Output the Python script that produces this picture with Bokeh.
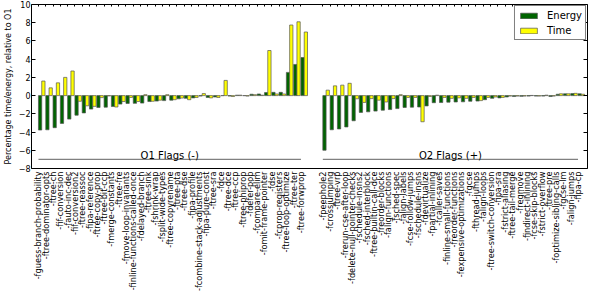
import numpy as np
from bokeh.plotting import figure
from bokeh.models import ColumnDataSource, FixedTicker, LinearAxis, CustomJSTickFormatter, Range1d
from bokeh.core.properties import value
from bokeh.embed import file_html
from bokeh.resources import INLINE

# ---------------- data ----------------
o1_flags = [
    "-fguess-branch-probability", "-ftree-dominator-opts", "-ftree-ch", "-fif-conversion",
    "-fauto-inc-dec", "-fif-conversion2", "-ftree-reassoc", "-fipa-reference",
    "-ftree-copy-prop", "-ftree-bit-ccp", "-fmerge-constants", "-ftree-fre",
    "-fmove-loop-invariants", "-finline-functions-called-once", "-fdelayed-branch",
    "-ftree-sink", "-fshrink-wrap", "-fsplit-wide-types", "-ftree-copyrename",
    "-ftree-pta", "-ftree-dse", "-fipa-profile", "-fcombine-stack-adjustments",
    "-fipa-pure-const", "-ftree-sra", "-fdce", "-ftree-dce", "-ftree-ccp",
    "-ftree-phiprop", "-fdefer-pop", "-fcompare-elim", "-fomit-frame-pointer",
    "-fdse", "-fcprop-registers", "-ftree-loop-optimize", "-ftree-ter", "-ftree-forwprop",
]
o1_energy = [
    -3.78, -3.75, -3.52, -3.05, -2.58, -2.15, -1.9, -1.48, -1.3, -1.27,
    -1.2, -0.93, -0.86, -0.85, -0.82, -0.65, -0.6, -0.55, -0.5, -0.35,
    -0.3, -0.25, -0.05, -0.2, -0.15, 0.0, -0.05, 0.05, 0.0, 0.15,
    0.18, 0.33, 0.36, 0.36, 2.55, 3.42, 4.18,
]
o1_time = [
    1.6, 0.85, 1.4, 2.0, 2.7, -0.62, -1.12, -1.18, -0.22, -0.03,
    -1.25, -0.65, -0.2, -0.65, 0.1, -0.62, -0.5, 0.1, -0.45, -0.27,
    -0.45, -0.2, 0.22, -0.25, -0.2, 1.67, -0.1, 0.05, -0.05, 0.1,
    0.05, 4.95, 0.18, 0.18, 7.75, 8.1, 6.98,
]
o2_flags = [
    "-fpeephole2", "-fcrossjumping", "-ftree-vrp", "-frerun-cse-after-loop",
    "-fdelete-null-pointer-checks", "-fschedule-insns2", "-fsched-interblock",
    "-ftree-builtin-call-dce", "-freorder-blocks", "-falign-functions", "-fsched-spec",
    "-falign-labels", "-fcse-follow-jumps", "-fschedule-insns", "-fdevirtualize",
    "-fpartial-inlining", "-fcaller-saves", "-finline-small-functions",
    "-freorder-functions", "-fexpensive-optimizations", "-fgcse", "-fthread-jumps",
    "-falign-loops", "-ftree-switch-conversion", "-fipa-sra", "-fstrict-aliasing",
    "-ftree-tail-merge", "-fregmove", "-findirect-inlining", "-fcse-skip-blocks",
    "-fstrict-overflow", "-ftree-pre", "-foptimize-sibling-calls", "-fgcse-lm",
    "-falign-jumps", "-fipa-cp",
]
o2_energy = [
    -6.0, -3.75, -3.66, -3.44, -2.76, -1.84, -1.78, -1.7, -1.6, -1.53,
    -1.42, -1.3, -1.27, -1.25, -1.13, -0.78, -0.76, -0.72, -0.7, -0.68,
    -0.62, -0.6, -0.45, -0.3, -0.25, -0.15, -0.1, -0.08, -0.05, -0.05,
    -0.05, -0.1, 0.15, 0.2, 0.22, 0.2,
]
o2_time = [
    0.6, 1.07, 1.15, 1.35, -0.35, -0.75, -0.33, -0.5, -0.7, -0.33,
    0.1, -0.2, -0.2, -2.87, -0.1, 0.05, -0.2, -0.3, -0.25, -0.3,
    -0.2, -0.55, -0.2, -0.15, -0.2, -0.05, -0.05, -0.05, 0.02, -0.05,
    0.05, -0.05, 0.2, 0.2, 0.25, 0.15,
]
group_labels = ["O1 Flags (-)", "O2 Flags (+)"]
series_labels = ["Energy", "Time"]
y_ticks = [-8, -6, -4, -2, 0, 2, 4, 6, 8, 10]

# ---------------- layout of categories ----------------
GAP = 2
W = 0.45
o1_pos = list(range(len(o1_flags)))
o2_start = len(o1_flags) + GAP
o2_pos = list(range(o2_start, o2_start + len(o2_flags)))
positions = o1_pos + o2_pos
flags = o1_flags + o2_flags
energy = o1_energy + o2_energy
time_ = o1_time + o2_time

src = ColumnDataSource(dict(
    xe=[x + W / 2 for x in positions],
    xt=[x + 3 * W / 2 for x in positions],
    energy=energy, time=time_,
))

FONT = "DejaVu Sans"

p = figure(width=598, height=293, output_backend="svg", toolbar_location=None,
           x_range=Range1d(-0.955, 75.3), y_range=Range1d(-8, 10),
           min_border_top=4, min_border_right=11, min_border_left=28, min_border_bottom=124,
           background_fill_color="white", border_fill_color="white")

p.vbar(x="xe", top="energy", bottom=0, width=W, source=src, fill_color="#006400",
       line_color="#555555", line_width=0.7, legend_label=series_labels[0])
p.vbar(x="xt", top="time", bottom=0, width=W, source=src, fill_color="#ffff00",
       line_color="#555555", line_width=0.7, legend_label=series_labels[1])

# group brackets
groups = [o1_pos, o2_pos]
p.segment(x0=[g[0] for g in groups], x1=[g[-1] for g in groups],
          y0=[-7.0] * 2, y1=[-7.0] * 2, line_color="#808080", line_width=1.2)
p.text(x=[(g[0] + g[-1]) / 2 for g in groups], y=[-6.6] * 2, text=group_labels,
       text_align="center", text_baseline="alphabetic",
       text_font=value(FONT), text_font_size="10px", text_color="black")

p.grid.visible = False
p.outline_line_color = "black"
p.outline_line_width = 1
p.outline_line_alpha = 1

# bottom axis: category labels
xa = p.xaxis[0]
xa.ticker = FixedTicker(ticks=positions)
xa.major_label_overrides = {pos: name for pos, name in zip(positions, flags)}
xa.major_label_orientation = np.pi / 2
xa.major_label_text_font = FONT
xa.major_label_text_font_size = "8.2px"
xa.major_label_text_color = "black"
xa.major_label_standoff = 3
xa.major_tick_in = 0
xa.major_tick_out = 0
xa.minor_tick_in = 0
xa.minor_tick_out = 0
xa.axis_line_color = None

# left axis
ya = p.yaxis[0]
ya.ticker = FixedTicker(ticks=y_ticks)
ya.major_label_overrides = {t: str(t).replace("-", "\u2212") for t in y_ticks}
ya.major_label_text_font = FONT
ya.major_label_text_font_size = "8px"
ya.major_label_text_color = "black"
ya.major_label_standoff = 1
ya.major_tick_in = 4
ya.major_tick_out = 0
ya.minor_tick_in = 0
ya.minor_tick_out = 0
ya.axis_line_color = None
ya.axis_label = "Percentage time/energy, relative to O1"
ya.axis_label_text_font = FONT
ya.axis_label_text_font_size = "8px"
ya.axis_label_text_font_style = "normal"
ya.axis_label_text_color = "black"
ya.axis_label_standoff = 3

blank = CustomJSTickFormatter(code="return ''")
right = LinearAxis(ticker=FixedTicker(ticks=y_ticks), formatter=blank,
                   major_tick_in=4, major_tick_out=0, minor_tick_in=0, minor_tick_out=0,
                   major_label_standoff=0, axis_line_color=None,
                   major_label_text_font_size="1px")
p.add_layout(right, "right")
top = LinearAxis(ticker=FixedTicker(ticks=positions), formatter=blank,
                 major_tick_in=2, major_tick_out=0, minor_tick_in=0, minor_tick_out=0,
                 major_label_standoff=0, axis_line_color=None,
                 major_label_text_font_size="1px")
p.add_layout(top, "above")

lg = p.legend[0]
lg.location = "top_right"
lg.margin = 1
lg.padding = 3
lg.spacing = 3
lg.glyph_width = 21
lg.glyph_height = 7
lg.label_height = 12
lg.label_width = 30
lg.label_standoff = 8
lg.label_text_font = FONT
lg.label_text_font_size = "10px"
lg.label_text_color = "black"
lg.border_line_color = "black"
lg.border_line_width = 1
lg.background_fill_color = "white"
lg.background_fill_alpha = 1

open("out.html", "w").write(file_html(p, INLINE))
